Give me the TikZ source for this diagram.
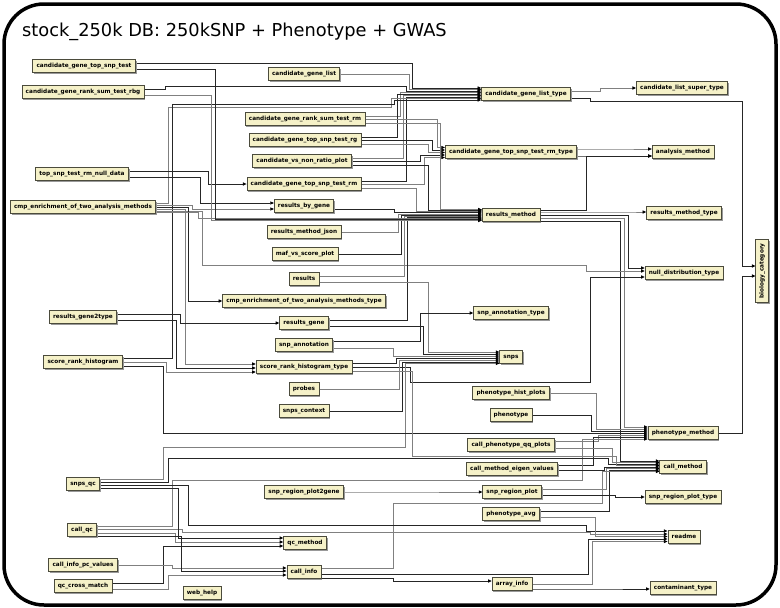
\documentclass[tikz,border=0pt]{standalone}
\usepackage{fontspec}
\setmainfont{DejaVu Sans}
\usetikzlibrary{arrows.meta,shadows}
\definecolor{tblfill}{RGB}{245,241,200}
\definecolor{tblline}{RGB}{75,75,60}
\pgfdeclarelayer{bg}
\pgfsetlayers{bg,main}
\tikzset{
  tbl/.style={draw=tblline, line width=0.65pt, fill=tblfill,
    font=\fontsize{5.75}{6.5}\selectfont\bfseries,
    inner xsep=3.8pt, inner ysep=0pt, minimum height=12.5pt,
    text height=4.6pt, text depth=1.3pt,
    drop shadow={shadow xshift=1.3pt, shadow yshift=-1.3pt, fill=black!40, opacity=1}},
  ea/.style={draw=black!85, line width=0.75pt, -{Triangle[length=3.6pt,width=3.2pt,color=black]}},
  eb/.style={ea, draw=black!50},
}
\newcommand\fk[6][ea]{\draw[#1] (#2.east |- 0,#3) -| (#4,#6) -- (#5.west |- 0,#6);}
\begin{document}
\begin{tikzpicture}[x=1pt,y=-1pt]
\useasboundingbox (0,0) rectangle (780,608);
\draw[line width=3.5pt, rounded corners=40pt] (4,4) rectangle (776,605);
\node[anchor=base west, font=\fontsize{17.8}{20}\selectfont, inner sep=0pt] (title) at (22,36) {stock\_250k DB: 250kSNP + Phenotype + GWAS};

\node[tbl] (cgtst) at (84,66) {candidate\_gene\_top\_snp\_test};
\node[tbl] (cgrbg) at (83,92) {candidate\_gene\_rank\_sum\_test\_rbg};
\node[tbl] (cgl) at (304,74) {candidate\_gene\_list};
\node[tbl] (cglt) at (526,94) {candidate\_gene\_list\_type};
\node[tbl] (clst) at (682,88) {candidate\_list\_super\_type};
\node[tbl] (cgrm) at (305,119) {candidate\_gene\_rank\_sum\_test\_rm};
\node[tbl] (cgrg) at (305,140) {candidate\_gene\_top\_snp\_test\_rg};
\node[tbl] (cgrmt) at (511,152) {candidate\_gene\_top\_snp\_test\_rm\_type};
\node[tbl] (am) at (683,152) {analysis\_method};
\node[tbl] (cvn) at (302,161) {candidate\_vs\_non\_ratio\_plot};
\node[tbl] (tsnull) at (82,174) {top\_snp\_test\_rm\_null\_data};
\node[tbl] (cgtrm) at (304,184) {candidate\_gene\_top\_snp\_test\_rm};
\node[tbl] (cmp) at (83,207) {cmp\_enrichment\_of\_two\_analysis\_methods};
\node[tbl] (rbg) at (304,206) {results\_by\_gene};
\node[tbl] (rm) at (511,215) {results\_method};
\node[tbl] (rmt) at (684,213) {results\_method\_type};
\node[tbl] (rmj) at (304,232) {results\_method\_json};
\node[tbl] (maf) at (305,254) {maf\_vs\_score\_plot};
\node[tbl] (res) at (304,279) {results};
\node[tbl] (ndt) at (684,273) {null\_distribution\_type};
\node[tbl,rotate=90] (bc) at (762,271) {biology\_category};
\node[tbl] (cmpt) at (304,301) {cmp\_enrichment\_of\_two\_analysis\_methods\_type};
\node[tbl] (rg2t) at (83,317) {results\_gene2type};
\node[tbl] (rgene) at (304,323) {results\_gene};
\node[tbl] (sat) at (511,313) {snp\_annotation\_type};
\node[tbl] (sa) at (304,345) {snp\_annotation};
\node[tbl] (srh) at (83,362) {score\_rank\_histogram};
\node[tbl] (snps) at (511,357) {snps};
\node[tbl] (srht) at (304,367) {score\_rank\_histogram\_type};
\node[tbl] (php) at (511,393) {phenotype\_hist\_plots};
\node[tbl] (probes) at (304,389) {probes};
\node[tbl] (pheno) at (511,415) {phenotype};
\node[tbl] (sctx) at (304,411) {snps\_context};
\node[tbl] (pm) at (683,433) {phenotype\_method};
\node[tbl] (cpqq) at (511,445) {call\_phenotype\_qq\_plots};
\node[tbl] (sqc) at (83,484) {snps\_qc};
\node[tbl] (cmev) at (512,469) {call\_method\_eigen\_values};
\node[tbl] (cm) at (683,467) {call\_method};
\node[tbl] (srp2g) at (304,492) {snp\_region\_plot2gene};
\node[tbl] (srp) at (512,492) {snp\_region\_plot};
\node[tbl] (srpt) at (683,497) {snp\_region\_plot\_type};
\node[tbl] (pavg) at (511,514) {phenotype\_avg};
\node[tbl] (cqc) at (82,530) {call\_qc};
\node[tbl] (readme) at (684,537) {readme};
\node[tbl] (qcm) at (305,543) {qc\_method};
\node[tbl] (cipc) at (83,565) {call\_info\_pc\_values};
\node[tbl] (ci) at (304,572) {call\_info};
\node[tbl] (ai) at (512,584) {array\_info};
\node[tbl] (qccm) at (83,586) {qc\_cross\_match};
\node[tbl] (wh) at (202,593) {web\_help};
\node[tbl] (ct) at (683,588) {contaminant\_type};

\begin{pgfonlayer}{bg}
% into candidate_gene_list_type
\fk{cgtst}{63}{412}{cglt}{88}
\fk[eb]{cgl}{74}{409}{cglt}{89.5}
\draw[ea] (cgrbg.east |- 0,89) -| (165,86) -| (406,91) -- (cglt.west |- 0,91);
\fk[eb]{cgrm}{116}{400}{cglt}{92.5}
\fk{cgrg}{137}{397}{cglt}{94}
\fk[eb]{cvn}{158}{403}{cglt}{95.5}
\fk{cgtrm}{181}{406}{cglt}{97}
\draw[eb] (cmp.east |- 0,203) -| (168,107) -| (391,98.5) -- (cglt.west |- 0,98.5);
\draw[ea] (srh.east |- 0,358) -| (172,104) -| (394,100) -- (cglt.west |- 0,100);
% from candidate_gene_list_type
\fk[eb]{cglt}{91}{600}{clst}{88}
\draw[ea] (cglt.east |- 0,98) -| (590,101) -| (742,266) -- (bc.north |- 0,266);
% into candidate_gene_top_snp_test_rm_type
\fk[eb]{cgrm}{119.5}{437}{cgrmt}{147.5}
\fk{cgrg}{140.5}{432}{cgrmt}{150}
\fk[eb]{cgrg}{144}{428}{cgrmt}{152.5}
\fk{cvn}{161.5}{420}{cgrmt}{155}
\fk[eb]{cgtrm}{184.5}{424}{cgrmt}{157.5}
% analysis_method
\fk[eb]{cgrmt}{149}{620}{am}{149}
\fk{cgrmt}{156}{620}{am}{156}
\fk{rm}{210}{586}{am}{156}
% from results_method
\fk[eb]{rm}{212}{630}{rmt}{212}
\fk{rm}{215}{628}{ndt}{268}
\fk[eb]{rm}{218}{624}{pm}{427}
\fk{rm}{221}{620}{cm}{461}
% null_distribution_type
\draw[eb] (cmp.east |- 0,211) -| (202,265) -| (586,271) -- (ndt.west |- 0,271);
\draw[ea] (srht.east |- 0,367) -| (410,382) -| (590,277) -- (ndt.west |- 0,277);
% results_by_gene, cgtrm, cmpt
\fk{tsnull}{177}{200}{rbg}{203}
\fk[eb]{cmp}{205}{192}{rbg}{209}
\fk{tsnull}{171}{208}{cgtrm}{184}
\fk{cmp}{207}{188}{cmpt}{301}
% score_rank_histogram_type, results_gene
\fk[eb]{cmp}{209}{185}{srht}{364}
\fk{rg2t}{320}{176}{srht}{368}
\fk[eb]{srh}{362}{166}{srht}{372}
\fk{rg2t}{314}{180}{rgene}{323}
% into results_method
\fk[eb]{cgrm}{123}{440}{rm}{209.5}
\fk{cvn}{165}{428}{rm}{210.6}
\fk[eb]{cgtrm}{188}{416}{rm}{211.7}
\fk{rbg}{209}{394}{rm}{212.8}
\fk[eb]{rmj}{232}{398}{rm}{213.9}
\fk{maf}{254}{401}{rm}{215}
\fk[eb]{res}{276}{404}{rm}{216.1}
\fk{rgene}{320}{407}{rm}{217.2}
\fk[eb]{cmp}{212}{198}{rm}{218.3}
\fk{cgtst}{69}{215}{rm}{219.4}
\fk[eb]{cgrbg}{95}{211}{rm}{220.5}
% into snps
\fk[eb]{res}{282}{428}{snps}{352}
\fk{rgene}{326}{423}{snps}{354}
\fk[eb]{sa}{348}{393}{snps}{356}
\fk{srht}{363}{396}{snps}{358}
\fk[eb]{probes}{389}{399}{snps}{360}
\fk{sctx}{411}{402}{snps}{362}
\draw[eb] (sqc.east |- 0,479) -| (163,447) -| (405,363.5) -- (snps.west |- 0,363.5);
\fk{sa}{341}{420}{sat}{313}
% into phenotype_method
\draw[ea] (srh.east |- 0,366) -| (163,433) -- (pm.west |- 0,433);
\fk[eb]{php}{393}{596}{pm}{429}
\fk{pheno}{415}{591}{pm}{431}
\fk[eb]{cpqq}{441}{598}{pm}{435}
\fk{cmev}{465}{593}{pm}{437}
\draw[eb] (cqc.east |- 0,526) -| (172,480) -| (582,439) -- (pm.west |- 0,439);
\draw[ea] (pm.east |- 0,433) -| (742,276) -- (bc.north |- 0,276);
% into call_method
\fk[eb]{cpqq}{448}{612}{cm}{462.5}
\draw[ea] (sqc.east |- 0,482) -| (168,458) -| (608,464) -- (cm.west |- 0,464);
\draw[eb] (srht.east |- 0,371) -| (412,456) -| (616,465.5) -- (cm.west |- 0,465.5);
\fk{cmev}{470}{604}{cm}{467}
\fk[eb]{srp}{489}{606}{cm}{468.5}
\fk{pavg}{511}{609}{cm}{470}
\draw[eb] (ci.east |- 0,568) -| (393,503) -| (602,471.5) -- (cm.west |- 0,471.5);
% snp_region_plot
\fk[eb]{srp2g}{492}{400}{srp}{492}
\fk{srp}{495}{615}{srpt}{497}
% readme
\draw[ea] (sqc.east |- 0,485) -| (188,525) -| (586,531) -- (readme.west |- 0,531);
\draw[eb] (cqc.east |- 0,529) -| (182,532) -| (590,534) -- (readme.west |- 0,534);
\fk[eb]{pavg}{517}{595}{readme}{536.5}
\fk{ci}{574}{588}{readme}{539}
\fk[eb]{ai}{584}{592}{readme}{541.5}
% qc_method
\fk{sqc}{488}{178}{qcm}{538}
\fk[eb]{cqc}{533}{175}{qcm}{542}
\fk{qccm}{583}{163}{qcm}{546}
% call_info
\fk[eb]{cipc}{565}{172}{ci}{568}
\fk{cqc}{536}{181}{ci}{571}
\fk[eb]{qccm}{589}{168}{ci}{575}
\draw[ea] (ci.east |- 0,578) -| (393,581) -- (ai.west |- 0,581);
\fk{ai}{589}{600}{ct}{589}
\end{pgfonlayer}
\end{tikzpicture}
\end{document}
